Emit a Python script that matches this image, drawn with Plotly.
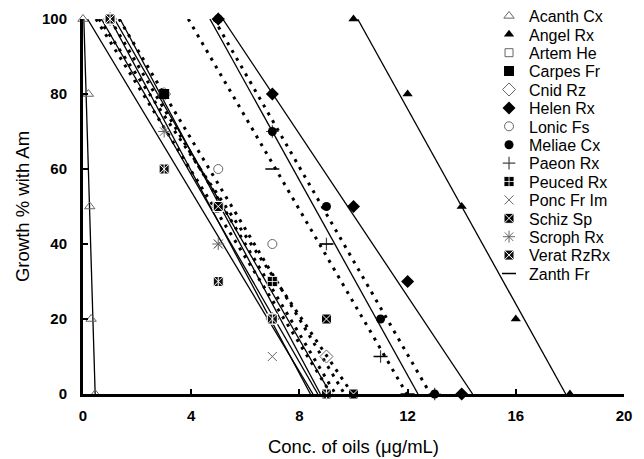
import numpy as np
import plotly.graph_objects as go

# ---- data (concentration in ug/mL, growth %) ----
series_names = ["Acanth Cx", "Angel Rx", "Artem He", "Carpes Fr", "Cnid Rz", "Helen Rx",
                "Lonic Fs", "Meliae Cx", "Paeon Rx", "Peuced Rx", "Ponc Fr Im", "Schiz Sp",
                "Scroph Rx", "Verat RzRx", "Zanth Fr"]

acanth_x = [0, 0.2, 0.25, 0.3, 0.45]
acanth_y = [100, 80, 50, 20, 0]
angel_x = [10, 12, 14, 16, 18]
angel_y = [100, 80, 50, 20, 0]
artem_x = [1, 3, 5, 7, 9]
artem_y = [100, 80, 50, 30, 0]
carpes_x = [3, 5, 7, 9]
carpes_y = [80, 50, 20, 0]
cnid_x = [1, 3, 5, 7, 9]
cnid_y = [100, 80, 50, 20, 10]
helen_x = [5, 7, 10, 12, 14]
helen_y = [100, 80, 50, 30, 0]
lonic_x = [1, 3, 5, 7, 9]
lonic_y = [100, 80, 60, 40, 0]
meliae_x = [5, 7, 9, 11, 13]
meliae_y = [100, 70, 50, 20, 0]
paeon_x = [5, 7, 9, 11, 13]
paeon_y = [100, 70, 40, 10, 0]
peuced_x = [1, 3, 5, 7, 9]
peuced_y = [100, 60, 50, 30, 0]
ponc_x = [1, 3, 5, 7, 9]
ponc_y = [100, 80, 40, 10, 0]
schiz_x = [1, 5, 7, 9, 10]
schiz_y = [100, 50, 20, 20, 0]
scroph_x = [1, 3, 5, 7, 9]
scroph_y = [100, 70, 40, 20, 0]
verat_x = [1, 3, 5, 7, 9]
verat_y = [100, 60, 30, 20, 0]
zanth_x = [7, 9, 11, 12]
zanth_y = [60, 40, 10, 0]

x_ticks = [0, 4, 8, 12, 16, 20]
y_ticks = [0, 20, 40, 60, 80, 100]

data = [
    (acanth_x, acanth_y), (angel_x, angel_y), (artem_x, artem_y), (carpes_x, carpes_y),
    (cnid_x, cnid_y), (helen_x, helen_y), (lonic_x, lonic_y), (meliae_x, meliae_y),
    (paeon_x, paeon_y), (peuced_x, peuced_y), (ponc_x, ponc_y), (schiz_x, schiz_y),
    (scroph_x, scroph_y), (verat_x, verat_y), (zanth_x, zanth_y),
]

# ---- styles ----
GRAY = "#666666"
styles = [
    dict(symbol="triangle-up-open", color=GRAY, size=9, line=dict(width=1, color=GRAY)),
    dict(symbol="triangle-up", color="black", size=9, line=dict(width=0, color="black")),
    dict(symbol="square-open", color=GRAY, size=8, line=dict(width=1, color=GRAY)),
    dict(symbol="square", color="black", size=10, line=dict(width=0, color="black")),
    dict(symbol="diamond-open", color=GRAY, size=10, line=dict(width=1, color=GRAY)),
    dict(symbol="diamond", color="black", size=10, line=dict(width=0, color="black")),
    dict(symbol="circle-open", color=GRAY, size=9, line=dict(width=1, color=GRAY)),
    dict(symbol="circle", color="black", size=9, line=dict(width=0, color="black")),
    dict(symbol="cross-thin-open", color="#444444", size=9, line=dict(width=1.2, color="#444444")),
    dict(symbol="square-cross", color="black", size=10, line=dict(width=0.8, color="white")),
    dict(symbol="x-thin-open", color=GRAY, size=9, line=dict(width=1, color=GRAY)),
    dict(symbol="square-x", color="black", size=10, line=dict(width=1, color="white")),
    dict(symbol="asterisk-open", color=GRAY, size=10, line=dict(width=1, color=GRAY)),
    dict(symbol="square-x", color="#111111", size=10, line=dict(width=1, color="white")),
    dict(symbol="line-ew-open", color="black", size=10, line=dict(width=1.5, color="black")),
]
line_dotted = [False, False, False, False, True, False, True, True, False, True,
               False, True, False, False, True]
# order in which marker layers are stacked (later = on top)
draw_order = ["Artem He", "Acanth Cx", "Cnid Rz", "Lonic Fs", "Ponc Fr Im", "Scroph Rx",
              "Paeon Rx", "Zanth Fr", "Angel Rx", "Helen Rx", "Meliae Cx", "Carpes Fr",
              "Peuced Rx", "Schiz Sp", "Verat RzRx"]

# page geometry (plot area) used to place the one-entry legends
M_L, M_R, M_T, M_B = 75, 28, 11, 73
W, H = 644, 459
PLOT_H = H - M_T - M_B
LEG_FIRST = 8.0     # page y of first legend row centre
LEG_STEP = 18.4     # row spacing
LEG_X = 0.7505

fig = go.Figure()

# trendlines (linear least squares fit, drawn between growth 100 and 0)
for (xs, ys), dotted in zip(data, line_dotted):
    m, b = np.polyfit(xs, ys, 1)
    xa = (100 - b) / m
    xb = (0 - b) / m
    if dotted:
        ln = dict(color="black", width=3, dash="3px,6px")
    else:
        ln = dict(color="black", width=1.3)
    fig.add_trace(go.Scatter(x=[xa, xb], y=[100, 0], mode="lines", line=ln,
                             showlegend=False, hoverinfo="skip"))

legend_layouts = {}
for name in draw_order:
    i = series_names.index(name)
    xs, ys = data[i]
    st = styles[i]
    lid = "legend" if i == 0 else f"legend{i + 1}"
    fig.add_trace(go.Scatter(
        x=xs, y=ys, mode="markers", name=name, cliponaxis=False, legend=lid,
        marker=dict(symbol=st["symbol"], color=st["color"], size=st["size"], line=st["line"]),
    ))
    if name == "Verat RzRx":
        fig.add_trace(go.Scatter(
            x=xs, y=ys, mode="markers", showlegend=False, cliponaxis=False,
            marker=dict(symbol="line-ns-open", size=7, color="white",
                        line=dict(width=1, color="white")),
        ))
    yc = LEG_FIRST + i * LEG_STEP
    legend_layouts[lid] = dict(
        x=LEG_X, y=1 - (yc - M_T) / PLOT_H, xanchor="left", yanchor="middle",
        font=dict(size=16), bgcolor="rgba(0,0,0,0)", itemwidth=30,
    )

fig.update_layout(
    width=W, height=H,
    margin=dict(l=M_L, r=M_R, t=M_T, b=M_B, autoexpand=False),
    paper_bgcolor="white", plot_bgcolor="white",
    font=dict(family="Liberation Sans, Arial, sans-serif", color="black"),
    showlegend=True,
    **legend_layouts,
)
fig.update_xaxes(
    range=[0, 20], tickvals=x_ticks, ticktext=[str(v) for v in x_ticks],
    showgrid=False, zeroline=False, showline=True, linecolor="black", linewidth=2.5,
    ticks="inside", ticklen=5, tickwidth=2, tickcolor="black",
    tickfont=dict(size=15, weight="bold"), ticklabelstandoff=6,
    automargin=False,
    title=dict(text="Conc. of oils (μg/mL)", font=dict(size=18.5), standoff=18),
)
fig.update_yaxes(
    range=[0, 100], tickvals=y_ticks, ticktext=[str(v) for v in y_ticks],
    showgrid=False, zeroline=False, showline=True, linecolor="black", linewidth=3,
    ticks="inside", ticklen=5, tickwidth=2, tickcolor="black",
    tickfont=dict(size=15, weight="bold"), ticklabelstandoff=10,
    automargin=False,
    title=dict(text="Growth % with Am", font=dict(size=18.5), standoff=8),
)

fig.write_html("out.html")
